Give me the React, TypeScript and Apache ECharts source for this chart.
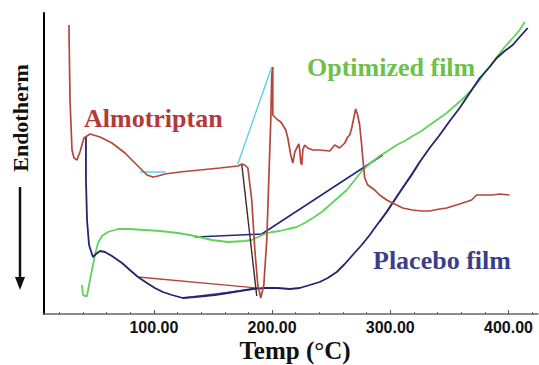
import React, { useEffect, useRef } from "react";
import * as echarts from "echarts";

// ---- Data (temperature °C, relative heat-flow signal) ----
const almoTemp = [28.1, 29.0, 30.7, 32.4, 34.9, 37.4, 40.8, 45.9, 54.4, 64.5, 75.5, 83.9, 89.9, 94.1, 99.2, 103.4, 109.3, 122.0, 138.9, 155.8, 171.0, 174.4, 176.9, 179.5, 182.8, 185.4, 187.9, 190.4, 193.0, 195.5, 197.2, 198.9, 199.7, 200.6, 200.6, 203.1, 204.8, 207.4, 209.0, 211.6, 213.3, 215.8, 217.5, 219.2, 220.9, 222.6, 223.4, 224.3, 225.1, 226.0, 227.6, 230.2, 234.4, 240.3, 248.8, 253.0, 257.2, 261.5, 264.0, 265.7, 267.4, 269.1, 270.7, 272.4, 274.1, 275.8, 276.7, 278.4, 280.9, 286.8, 291.0, 297.0, 302.0, 310.5, 318.9, 326.5, 333.3, 341.8, 347.7, 358.7, 368.8, 373.0, 379.8, 386.6, 392.5, 400.9];
const almoSignal = [289, 214, 164, 156, 154, 162, 176, 180, 177, 171, 161, 151, 144, 139, 137, 138, 140, 142, 144, 146, 148, 150, 149, 146, 114, 64, 29, 16, 29, 74, 134, 194, 239, 247, 199, 196, 194, 192, 189, 184, 176, 159, 151, 162, 166, 170, 164, 151, 149, 164, 169, 166, 164, 164, 163, 169, 166, 171, 177, 179, 186, 196, 205, 199, 189, 169, 156, 136, 129, 124, 119, 114, 111, 106, 104, 103, 103, 105, 106, 110, 114, 119, 119, 119, 120, 119];

const placeboTemp = [42.5, 42.5, 43.4, 45.1, 48.4, 51.0, 54.4, 58.6, 64.5, 73.0, 79.7, 86.5, 94.1, 100.8, 107.6, 115.2, 124.5, 134.6, 143.1, 151.5, 162.5, 172.7, 182.8, 193.8, 204.8, 215.0, 223.4, 231.9, 240.3, 247.1, 254.7, 261.5, 268.2, 275.8, 282.6, 289.3, 297.0, 303.7, 310.5, 318.1, 324.9, 333.3, 341.8, 350.3, 358.7, 367.2, 375.7, 384.1, 390.1, 396.8, 403.6, 409.5, 416.3];
const placeboSignal = [178, 134, 94, 69, 57, 60, 63, 62, 58, 51, 44, 37, 31, 26, 22, 19, 16, 17, 18, 19, 21, 23, 25, 26, 26, 25, 26, 29, 32, 36, 42, 50, 59, 69, 79, 90, 102, 114, 126, 139, 152, 166, 179, 193, 206, 221, 236, 247, 256, 263, 269, 277, 286];

const optTemp = [39.1, 40.0, 41.7, 43.4, 45.1, 47.6, 50.1, 52.7, 56.0, 61.1, 69.6, 79.7, 92.4, 105.1, 120.3, 134.6, 149.0, 162.5, 176.9, 182.8, 187.9, 193.8, 199.7, 206.5, 213.3, 220.9, 227.6, 234.4, 242.0, 248.8, 255.5, 263.2, 269.9, 276.7, 284.3, 291.0, 297.8, 305.4, 312.2, 318.9, 326.5, 333.3, 341.8, 347.7, 354.5, 361.3, 368.8, 375.7, 382.4, 390.1, 396.8, 403.6, 409.5, 413.7];
const optSignal = [29, 19, 18, 18, 29, 44, 59, 71, 78, 82, 85, 85, 84, 83, 81, 78, 74, 72, 73, 74, 77, 80, 82, 83, 85, 87, 91, 96, 102, 109, 116, 124, 134, 144, 152, 158, 163, 169, 173, 178, 183, 189, 196, 201, 208, 215, 224, 234, 245, 257, 267, 276, 284, 292];

// construction (tangent / baseline) lines
const cyanBaseTemp = [88.3, 109.9];
const cyanBaseSignal = [142, 142];
const cyanRiseTemp = [171.0, 199.7];
const cyanRiseSignal = [150, 247];
const navyTangentTemp = [134.6, 191.3, 293.6];
const navyTangentSignal = [77, 80, 159];
const redTangentTemp = [86.5, 187.9];
const redTangentSignal = [37, 26];
const purpleTangentTemp = [124.5, 185.4];
const purpleTangentSignal = [16, 25];
const purpleRiseTemp = [291.0, 324.9];
const purpleRiseSignal = [92, 152];
const onsetTemp = [174.4, 187.0];
const onsetSignal = [149, 18];

const minorTicks = [20, 40, 60, 80, 100, 120, 140, 160, 180, 200, 220, 240, 260, 280, 300, 320, 340, 360, 380, 400, 420];
const majorTicks = [100, 200, 300, 400];

const zip = (xs: number[], ys: number[]) => xs.map((x, i) => [x, ys[i]]);

export default function App() {
  const ref = useRef<HTMLDivElement>(null);
  useEffect(() => {
    if (!ref.current) return;
    const chart = echarts.init(ref.current, null, { renderer: "svg" });
    const line = (name: string, data: number[][], color: string, width: number, z = 2) => ({
      type: "line",
      name,
      data,
      showSymbol: false,
      symbol: "none",
      lineStyle: { color, width },
      z,
      xAxisIndex: 0,
      yAxisIndex: 0,
    });
    const serif = "'Liberation Serif', 'Times New Roman', serif";
    chart.setOption({
      animation: false,
      backgroundColor: "#ffffff",
      grid: { left: 44, right: 1, top: 13, bottom: 51 },
      xAxis: [
        {
          type: "value",
          min: 7,
          max: 425,
          axisLine: { show: true, lineStyle: { color: "#666", width: 1.5 } },
          axisTick: { show: true, inside: true, length: 2, customValues: minorTicks, lineStyle: { color: "#666" } },
          axisLabel: {
            show: true,
            customValues: majorTicks,
            formatter: (v: number) => v.toFixed(2),
            color: "#111",
            fontFamily: "'Liberation Sans', Arial, sans-serif",
            fontWeight: "bold",
            fontSize: 16,
            margin: 5,
          },
          splitLine: { show: false },
        },
        {
          type: "value",
          min: 7,
          max: 425,
          position: "bottom",
          axisLine: { show: false },
          axisTick: { show: true, inside: true, length: 4, customValues: majorTicks, lineStyle: { color: "#555" } },
          axisLabel: { show: false },
          splitLine: { show: false },
        },
      ],
      yAxis: {
        type: "value",
        min: 0,
        max: 301,
        axisLine: { show: true, lineStyle: { color: "#000", width: 2 } },
        axisTick: { show: false },
        axisLabel: { show: false },
        splitLine: { show: false },
      },
      series: [
        line("cyanBase", zip(cyanBaseTemp, cyanBaseSignal), "#5ccfe6", 1.4, 1),
        line("cyanRise", zip(cyanRiseTemp, cyanRiseSignal), "#5ccfe6", 1.4, 1),
        line("redTangent", zip(redTangentTemp, redTangentSignal), "#b5463c", 1.4, 1),
        line("purpleTangent", zip(purpleTangentTemp, purpleTangentSignal), "#8a4bb5", 1.4, 1),
        line("purpleRise", zip(purpleRiseTemp, purpleRiseSignal), "#8a4bb5", 1.4, 1),
        line("navyTangent", zip(navyTangentTemp, navyTangentSignal), "#26297a", 1.6, 1),
        line("Optimized film", zip(optTemp, optSignal), "#5fd35a", 1.8, 2),
        line("Placebo film", zip(placeboTemp, placeboSignal), "#23246e", 1.8, 3),
        line("Almotriptan", zip(almoTemp, almoSignal), "#b5463c", 1.7, 4),
        line("onset", zip(onsetTemp, onsetSignal), "#3a2a2a", 1.4, 5),
      ],
      graphic: [
        {
          type: "text",
          x: 84,
          y: 118,
          style: { text: "Almotriptan", fill: "#b23a3a", font: `bold 26px ${serif}`, textVerticalAlign: "middle" },
        },
        {
          type: "text",
          x: 307,
          y: 67,
          style: { text: "Optimized film", fill: "#6cc146", font: `bold 26px ${serif}`, textVerticalAlign: "middle" },
        },
        {
          type: "text",
          x: 373,
          y: 260,
          style: { text: "Placebo film", fill: "#3b3f8a", font: `bold 26px ${serif}`, textVerticalAlign: "middle" },
        },
        {
          type: "text",
          x: 295,
          y: 350,
          style: { text: "Temp (°C)", fill: "#111", font: `bold 25px ${serif}`, textAlign: "center", textVerticalAlign: "middle" },
        },
        {
          type: "text",
          x: 20,
          y: 118,
          rotation: Math.PI / 2,
          style: { text: "Endotherm", fill: "#111", font: `bold 22px ${serif}`, textAlign: "center", textVerticalAlign: "middle" },
        },
        {
          type: "line",
          shape: { x1: 20, y1: 187, x2: 20, y2: 280 },
          style: { stroke: "#111", lineWidth: 2.5 },
        },
        {
          type: "polygon",
          shape: { points: [[15, 277], [25, 277], [20, 290]] },
          style: { fill: "#111" },
        },
      ],
    });
    return () => chart.dispose();
  }, []);
  return <div ref={ref} style={{ position: "fixed", left: 0, top: 0, width: 539, height: 365 }} />;
}
